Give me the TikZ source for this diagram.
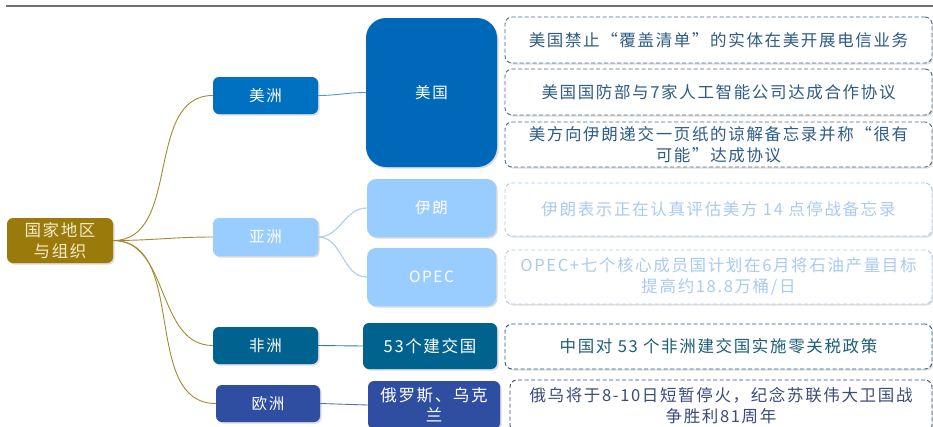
\documentclass[tikz,border=0pt]{standalone}
\usepackage{fontspec}
\setmainfont[LetterSpace=10]{Noto Sans CJK SC}
\usetikzlibrary{shadows}
\definecolor{rootgold}{HTML}{9B7A0C}
\definecolor{rootcream}{HTML}{F4EBCB}
\definecolor{stemgold}{HTML}{A38A2C}
\definecolor{amblue}{HTML}{0070C0}
\definecolor{usblue}{HTML}{0068B8}
\definecolor{asblue}{HTML}{99CCFF}
\definecolor{asline}{HTML}{B3CFEC}
\definecolor{afteal}{HTML}{00628F}
\definecolor{eublue}{HTML}{2F4EA2}
\definecolor{memotext}{HTML}{2E5C86}
\definecolor{memoedge}{HTML}{4A6A8A}
\definecolor{memolight}{HTML}{A9CBEF}
\definecolor{memoteal}{HTML}{1E5E78}
\definecolor{memoslate}{HTML}{3C4B78}
\definecolor{ruleline}{HTML}{6E6E6E}

\begin{document}
\begin{tikzpicture}[x=1pt,y=-1pt,
  every node/.style={align=center,inner sep=0pt},
  topic/.style={rounded corners=6pt,text=white,font=\fontsize{15.5}{21}\selectfont,
    drop shadow={shadow xshift=1.5pt,shadow yshift=-1.5pt,opacity=.3}},
  memo/.style={draw,dashed,dash pattern=on 4pt off 2.5pt,line width=.9pt,rounded corners=7pt,fill=white,
    minimum width=427pt,font=\fontsize{16.5}{21}\selectfont,
    drop shadow={shadow xshift=1.5pt,shadow yshift=-1.5pt,opacity=.25}},
  stem/.style={stemgold,line width=.9pt}]
\useasboundingbox (0,0) rectangle (933,426);
\draw[ruleline,line width=1.2pt] (6,6) -- (933,6);

\node[topic,fill=rootgold,text=rootcream,font=\fontsize{16.5}{21}\selectfont,minimum width=106pt,minimum height=45pt] (root) at (60,240.5) {国家地区\\与组织};

\node[topic,fill=amblue,minimum width=105pt,minimum height=37pt] (am) at (265.5,95.5) {美洲};
\node[topic,fill=asblue,minimum width=105pt,minimum height=38pt] (as) at (265.5,237) {亚洲};
\node[topic,fill=afteal,minimum width=105pt,minimum height=37pt] (af) at (265.5,345.5) {非洲};
\node[topic,fill=eublue,minimum width=104pt,minimum height=37pt] (eu) at (268,403.5) {欧洲};

\node[topic,fill=usblue,rounded corners=20pt,minimum width=131pt,minimum height=149pt] (us) at (431.5,92.5) {美国};
\node[topic,fill=asblue,rounded corners=9pt,minimum width=129pt,minimum height=58pt] (ir) at (431.5,208) {伊朗};
\node[topic,fill=asblue,rounded corners=9pt,minimum width=129pt,minimum height=58pt] (opec) at (431.5,277) {OPEC};
\node[topic,fill=afteal,font=\fontsize{16.5}{21}\selectfont,minimum width=134pt,minimum height=46pt] (cn53) at (430,346) {53个建交国};
\node[topic,fill=eublue,font=\fontsize{16.5}{20}\selectfont,minimum width=132pt,minimum height=48pt] (ruua) at (434,405) {俄罗斯、乌克\\兰};

\node[memo,draw=memoedge,text=memotext,minimum height=46pt] (m1) at (718.5,40) {美国禁止“覆盖清单”的实体在美开展电信业务};
\node[memo,draw=memoedge,text=memotext,minimum height=46pt] (m2) at (718.5,92) {美国国防部与7家人工智能公司达成合作协议};
\node[memo,draw=memoedge,text=memotext,minimum height=45pt] (m3) at (718.5,144.5) {美方向伊朗递交一页纸的谅解备忘录并称“很有\\可能”达成协议};
\node[memo,draw=memolight,text=memolight,minimum height=53pt] (m4) at (718.5,209.5) {伊朗表示正在认真评估美方 14 点停战备忘录};
\node[memo,draw=memolight,text=memolight,minimum height=54pt] (m5) at (718.5,277) {OPEC+七个核心成员国计划在6月将石油产量目标\\提高约18.8万桶/日};
\node[memo,draw=memoteal,text=memoteal,minimum height=45pt] (m6) at (718.5,346.5) {中国对 53 个非洲建交国实施零关税政策};
\node[memo,draw=memoslate,text=memoslate,minimum width=422pt,minimum height=52pt] (m7) at (721,406) {俄乌将于8-10日短暂停火，纪念苏联伟大卫国战\\争胜利81周年};

\foreach \t in {am,as,af,eu}
  \draw[stem] (root.east) to[out=0,in=180] (\t.west);
\draw[amblue!70,line width=.9pt] (am.east) to[out=0,in=180] (us.west);
\draw[asline,line width=1.2pt] (as.east) to[out=0,in=180] (ir.west);
\draw[asline,line width=1.2pt] (as.east) to[out=0,in=180] (opec.west);
\draw[afteal!80,line width=.9pt] (af.east) -- (cn53.west);
\draw[eublue!80,line width=.9pt] (eu.east) -- (ruua.west);
\end{tikzpicture}
\end{document}
